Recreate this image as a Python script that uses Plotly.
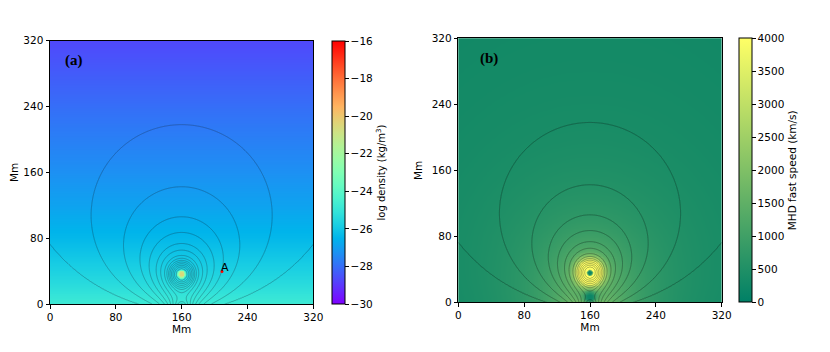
import numpy as np
import plotly.graph_objects as go

# ---------------- values ----------------
tick_vals = [0, 80, 160, 240, 320]
density_heights = [0, 20, 40, 80, 120, 160, 200, 240, 280, 320]            # Mm
density_log_values = [-24.8, -25.3, -25.7, -26.4, -26.9, -27.3, -27.65, -28.0, -28.35, -28.7]
rope_center = [160.0, 36.0]           # Mm
rope_core_log_density = [-20.5]
rope_core_radius = [5.0]
contour_top_heights = [43, 45, 47, 49, 51, 53, 55.5, 59, 65.5, 73.5, 87, 106, 142.5, 218]
edge_line_point = [0.0, 73.0]
speed_ref_point = [160.0, 150.0, 520.0]   # x, y, km/s
sound_speed = [190.0]
rope_speed_peak = [8300.0]
rope_speed_radius = [17.0]
dark_core_radius = [4.5]
x_point = [160.0, 6.0]
x_point_radius = [6.0]
point_A = [209.0, 39.5]
label_A = [213.0, 44.0]
density_ticks = [-30, -28, -26, -24, -22, -20, -18, -16]
speed_ticks = [0, 500, 1000, 1500, 2000, 2500, 3000, 3500, 4000]

# field-model parameters (flux rope + image + line dipole)
rope_current = [1.0]
rope_core = [6.0]
dipole_depth = [20.0]
dipole_moment = [44.3]
speed_exponents = [0.6, 0.06]

# ---------------- grids ----------------
x = np.linspace(0, 320, 321)
y = np.linspace(0, 320, 321)
X, Y = np.meshgrid(x, y)
xc, h = rope_center
I, a = rope_current[0], rope_core[0]
d, M = dipole_depth[0], dipole_moment[0]


def flux(xx, yy):
    u = xx - xc
    r1 = u ** 2 + (yy - h) ** 2 + a ** 2
    r2 = u ** 2 + (yy + h) ** 2 + a ** 2
    return -0.5 * I * np.log(r1) + 0.5 * I * np.log(r2) + M * (yy + d) / (u ** 2 + (yy + d) ** 2)


A = flux(X, Y)
levels = [flux(xc, t) for t in contour_top_heights] + [flux(*edge_line_point)]
levels = sorted(set(np.round(levels, 6)))
N = len(levels)
xp = [A.min() - 1.0] + list(levels) + [A.max() + 1.0]
fp = list(range(0, N + 2))
Zc = np.round(np.interp(A, xp, fp), 4)

# density
rr = np.sqrt((X - xc) ** 2 + (Y - h) ** 2)
bg = np.interp(Y, density_heights, density_log_values)
amp = rope_core_log_density[0] - np.interp(h, density_heights, density_log_values)
logrho = bg + amp * np.exp(-(rr / rope_core_radius[0]) ** 4)

# fast speed
dAy, dAx = np.gradient(A, y, x)
B = np.sqrt(dAx ** 2 + dAy ** 2)
p, s = speed_exponents
ix = int(np.argmin(np.abs(x - speed_ref_point[0])))
iy = int(np.argmin(np.abs(y - speed_ref_point[1])))
f = B / B[iy, ix]
dens = 10 ** (-s * (bg - bg[iy, ix]))
vA_ref = np.sqrt(speed_ref_point[2] ** 2 - sound_speed[0] ** 2)
v_bg = vA_ref * f ** p * dens
v_rope = rope_speed_peak[0] * np.exp(-(rr / rope_speed_radius[0]) ** 2) * B / (B + 0.01)
mask = 1 - np.exp(-(rr / dark_core_radius[0]) ** 4)
rx2 = ((X - x_point[0]) ** 2 + (Y - x_point[1]) ** 2) / x_point_radius[0] ** 2
mask_x = 1 - np.exp(-rx2)
vA = np.sqrt(v_bg ** 2 + v_rope ** 2) * mask * mask_x
vf = np.sqrt(sound_speed[0] ** 2 + vA ** 2)


# ---------------- colour scales ----------------
def rainbow(n=21):
    out = []
    for t in np.linspace(0, 1, n):
        r = min(1.0, abs(2 * t - 0.5))
        g = np.sin(np.pi * t)
        b = np.cos(np.pi * t / 2)
        out.append([float(t), f"rgb({int(r*255)},{int(g*255)},{int(max(b,0)*255)})"])
    return out


summer = [[0, "rgb(0,128,102)"], [1, "rgb(255,255,102)"]]

fig = go.Figure()

# the page body has an 8 px default margin: lay out in page pixels minus 8
OFF = 8
W, H = 830 - OFF, 352 - OFF


def fx(px):
    return (px - OFF) / W


def fy(py):
    return 1 - (py - OFF) / H


dom_a_x = [fx(50), fx(313.3)]
dom_a_y = [fy(304), fy(40.7)]
dom_b_x = [fx(458.3), fx(721.7)]
dom_b_y = [fy(302.3), fy(38.3)]

fig.add_trace(go.Heatmap(
    x=x, y=y, z=np.round(logrho, 3), colorscale=rainbow(), zmin=-30, zmax=-16,
    hoverinfo="skip", xaxis="x", yaxis="y",
    colorbar=dict(x=fx(332), xanchor="left", y=dom_a_y[0], yanchor="bottom",
                  len=dom_a_y[1] - dom_a_y[0], lenmode="fraction", thickness=12.5,
                  xpad=0, ypad=0, outlinewidth=1, outlinecolor="black",
                  ticks="outside", ticklen=3.5, tickcolor="black",
                  tickvals=density_ticks, tickfont=dict(size=10.5, color="black"),
                  title=dict(text="log density (kg/m<sup>3</sup>)", side="right",
                             font=dict(size=10, color="black")))))
fig.add_trace(go.Contour(
    x=x, y=y, z=Zc, xaxis="x", yaxis="y", showscale=False, hoverinfo="skip",
    contours=dict(start=1, end=N, size=1, coloring="none"),
    line=dict(color="rgba(30,50,70,0.42)", width=0.8, smoothing=0)))

fig.add_trace(go.Heatmap(
    x=x, y=y, z=np.round(vf, 1), colorscale=summer, zmin=0, zmax=4000,
    hoverinfo="skip", xaxis="x2", yaxis="y2",
    colorbar=dict(x=fx(739), xanchor="left", y=dom_b_y[0], yanchor="bottom",
                  len=dom_b_y[1] - dom_b_y[0], lenmode="fraction", thickness=12.5,
                  xpad=0, ypad=0, outlinewidth=1, outlinecolor="black",
                  ticks="outside", ticklen=3.5, tickcolor="black",
                  tickvals=speed_ticks, tickfont=dict(size=10.5, color="black"),
                  title=dict(text="MHD fast speed (km/s)", side="right",
                             font=dict(size=10.5, color="black")))))
fig.add_trace(go.Contour(
    x=x, y=y, z=Zc, xaxis="x2", yaxis="y2", showscale=False, hoverinfo="skip",
    contours=dict(start=1, end=N, size=1, coloring="none"),
    line=dict(color="rgba(20,40,30,0.45)", width=0.8, smoothing=0)))

fig.add_trace(go.Scatter(x=[point_A[0]], y=[point_A[1]], mode="markers",
                         marker=dict(color="red", size=3), xaxis="x", yaxis="y",
                         hoverinfo="skip", showlegend=False))

axis_common = dict(range=[0, 320], tickvals=tick_vals, ticks="outside", ticklen=3.5,
                   tickcolor="black", showline=True, linecolor="black", linewidth=1,
                   mirror=True, showgrid=False, zeroline=False, automargin=False,
                   tickfont=dict(size=10.5, color="black"))

fig.update_layout(
    width=W, height=H, autosize=False, margin=dict(l=0, r=0, t=0, b=0),
    paper_bgcolor="white", plot_bgcolor="white", showlegend=False,
    font=dict(family="DejaVu Sans", color="black"),
    xaxis=dict(domain=dom_a_x, anchor="y", title=dict(text="Mm", font=dict(size=10.5), standoff=0), **axis_common),
    yaxis=dict(domain=dom_a_y, anchor="x", title=dict(text="Mm", font=dict(size=10.5), standoff=6), **axis_common),
    xaxis2=dict(domain=dom_b_x, anchor="y2", title=dict(text="Mm", font=dict(size=10.5), standoff=0), **axis_common),
    yaxis2=dict(domain=dom_b_y, anchor="x2", title=dict(text="Mm", font=dict(size=10.5), standoff=6), **axis_common),
    annotations=[
        dict(x=29, y=295.5, xref="x", yref="y", text="<b>(a)</b>", showarrow=False,
             font=dict(family="Liberation Serif", size=15, color="black")),
        dict(x=37.5, y=295.5, xref="x2", yref="y2", text="<b>(b)</b>", showarrow=False,
             font=dict(family="Liberation Serif", size=15, color="black")),
        dict(x=label_A[0], y=label_A[1], xref="x", yref="y", text="A", showarrow=False,
             font=dict(size=11, color="black")),
    ],
)

fig.write_html("out.html")
